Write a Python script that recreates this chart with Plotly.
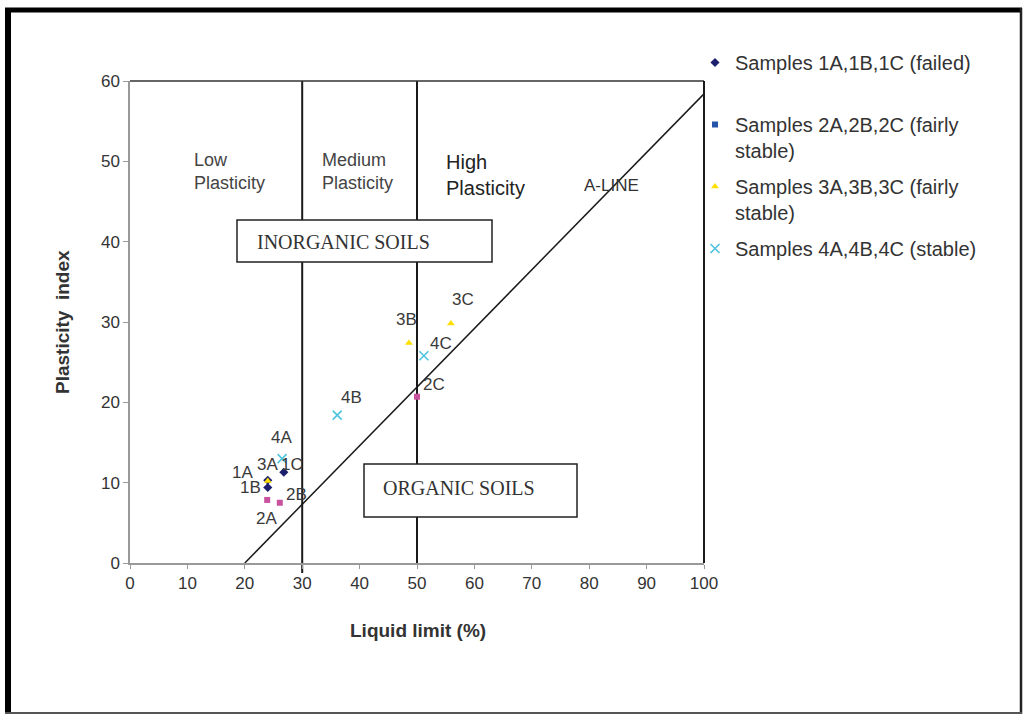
import plotly.graph_objects as go

# Atterberg limits of the samples: liquid limit (%) and plasticity index
s1_names = ["1A", "1B", "1C"]
s1_ll = [24.0, 24.0, 26.8]
s1_pi = [10.3, 9.4, 11.3]

s2_names = ["2A", "2B", "2C"]
s2_ll = [23.9, 26.1, 50.0]
s2_pi = [7.85, 7.5, 20.7]

s3_names = ["3A", "3B", "3C"]
s3_ll = [24.0, 48.6, 55.9]
s3_pi = [10.2, 27.4, 29.8]

s4_names = ["4A", "4B", "4C"]
s4_ll = [26.5, 36.1, 51.2]
s4_pi = [13.0, 18.4, 25.8]

series_labels = [
    "Samples 1A,1B,1C (failed)<br> ",
    "Samples 2A,2B,2C (fairly<br>stable)",
    "Samples 3A,3B,3C (fairly<br>stable)",
    "Samples 4A,4B,4C (stable)",
]

# A-line: PI = 0.73 (LL - 20)
aline_ll = [20, 100]
aline_pi = [0.73 * (v - 20) for v in aline_ll]

x_ticks = list(range(0, 101, 10))
y_ticks = list(range(0, 61, 10))

# pixel offsets of each point label from its marker (dx right, dy up)
label_offsets = {
    "1A": (-25, 8), "1B": (-17, 0), "1C": (8, 8),
    "2A": (-1, -19), "2B": (17, 8), "2C": (17, 12),
    "3A": (0, 17), "3B": (-2, 23), "3C": (12, 24),
    "4A": (-1, 21), "4B": (14, 18), "4C": (17, 12),
}

W, H = 1025, 715
L, R, T, B = 130, 704, 81, 563  # plot area in pixels


def px(xp):
    return (xp - L) / (R - L)


def py(yp):
    return (B - yp) / (B - T)


SANS = "Liberation Sans"
SERIF = "Liberation Serif"

fig = go.Figure()

# A-line
fig.add_trace(go.Scatter(x=aline_ll, y=aline_pi, mode="lines",
                         line=dict(color="#1a1a1a", width=1.5),
                         showlegend=False, hoverinfo="skip"))

series = [
    (s1_names, s1_ll, s1_pi, "diamond", "#1c1f6e", "#1c1f6e", 7),
    (s2_names, s2_ll, s2_pi, "square", "#c9529f", "#2554a8", 6),
    (s3_names, s3_ll, s3_pi, "triangle-up", "#ffdf00", "#ffdf00", 7),
    (s4_names, s4_ll, s4_pi, "x-thin", "#4ec3dd", "#4ec3dd", 9),
]

for i, (names, xs, ys, sym, col, legcol, size) in enumerate(series):
    grp = f"g{i}"
    line = dict(color=col, width=1.6) if sym == "x-thin" else dict(width=0)
    fig.add_trace(go.Scatter(
        x=xs, y=ys, mode="markers", name=series_labels[i],
        marker=dict(symbol=sym, color=col, size=size, line=line),
        legendgroup=grp, showlegend=False))
    leg_line = dict(color=legcol, width=1.6) if sym == "x-thin" else dict(width=0)
    fig.add_trace(go.Scatter(
        x=[None], y=[None], mode="markers", name=series_labels[i],
        marker=dict(symbol=sym, color=legcol, size=size, line=leg_line),
        legendgroup=grp, showlegend=True))
    for n, xv, yv in zip(names, xs, ys):
        dx, dy = label_offsets[n]
        fig.add_annotation(x=xv, y=yv, text=n, showarrow=False,
                           xshift=dx, yshift=dy,
                           xanchor="center", yanchor="middle",
                           font=dict(family=SANS, size=17, color="#3a3a3a"))

shapes = []
# plasticity boundaries
shapes.append(dict(type="line", xref="x", yref="paper", x0=30, x1=30,
                   y0=-0.021, y1=1, line=dict(color="#1a1a1a", width=2), layer="below"))
shapes.append(dict(type="line", xref="x", yref="paper", x0=50, x1=50,
                   y0=0, y1=1, line=dict(color="#1a1a1a", width=2), layer="below"))
# plot area border (top and right)
shapes.append(dict(type="line", xref="paper", yref="paper", x0=0, x1=1,
                   y0=1, y1=1, line=dict(color="#333333", width=1.5)))
shapes.append(dict(type="line", xref="paper", yref="paper", x0=1, x1=1,
                   y0=0, y1=1, line=dict(color="#1a1a1a", width=2)))
# soil group boxes
shapes.append(dict(type="rect", xref="paper", yref="paper",
                   x0=px(237), x1=px(492), y0=py(262), y1=py(220),
                   fillcolor="white", line=dict(color="#222222", width=1.5), layer="above"))
shapes.append(dict(type="rect", xref="paper", yref="paper",
                   x0=px(364), x1=px(577), y0=py(517), y1=py(464),
                   fillcolor="white", line=dict(color="#222222", width=1.5), layer="above"))
# outer frame
shapes.append(dict(type="line", xref="paper", yref="paper", x0=px(8), x1=px(8),
                   y0=py(714), y1=py(8), line=dict(color="black", width=6)))
shapes.append(dict(type="line", xref="paper", yref="paper", x0=px(5), x1=px(1022),
                   y0=py(10), y1=py(10), line=dict(color="black", width=5)))
shapes.append(dict(type="line", xref="paper", yref="paper", x0=px(1021), x1=px(1021),
                   y0=py(714), y1=py(8), line=dict(color="#222222", width=2.5)))
shapes.append(dict(type="line", xref="paper", yref="paper", x0=px(5), x1=px(1022),
                   y0=py(713), y1=py(713), line=dict(color="#555555", width=2)))

annotations = [
    dict(x=px(192), y=py(171), xanchor="left",
         text="Low<br>Plasticity", align="left",
         font=dict(family=SANS, size=18, color="#444444")),
    dict(x=px(320), y=py(171), xanchor="left",
         text="Medium<br>Plasticity", align="left",
         font=dict(family=SANS, size=18, color="#444444")),
    dict(x=px(444), y=py(175), xanchor="left",
         text="High<br>Plasticity", align="left",
         font=dict(family=SANS, size=20, color="#222222")),
    dict(x=px(611), y=py(185), xanchor="center",
         text="A-LINE",
         font=dict(family=SANS, size=17, color="#333333")),
    dict(x=px(255), y=py(242), xanchor="left",
         text="INORGANIC SOILS",
         font=dict(family=SERIF, size=20, color="#333333")),
    dict(x=px(381), y=py(488), xanchor="left",
         text="ORGANIC SOILS",
         font=dict(family=SERIF, size=20, color="#333333")),
    dict(x=px(62), y=py(322), xanchor="center", textangle=-90,
         text="<b>Plasticity  index</b>",
         font=dict(family=SANS, size=19, color="#333333")),
    dict(x=px(418), y=py(630), xanchor="center",
         text="<b>Liquid limit (%)</b>",
         font=dict(family=SANS, size=19, color="#333333")),
]

for a in annotations:
    fig.add_annotation(xref="paper", yref="paper", yanchor="middle",
                       showarrow=False, **a)

fig.update_layout(
    width=W, height=H,
    margin=dict(l=L, r=W - R, t=T, b=H - B),
    plot_bgcolor="white", paper_bgcolor="white",
    shapes=shapes,
    showlegend=True,
    legend=dict(x=px(695), y=py(43), xanchor="left", yanchor="top",
                font=dict(family=SANS, size=20, color="#333333"),
                valign="top", tracegroupgap=7, bgcolor="rgba(0,0,0,0)",
                itemwidth=30),
    xaxis=dict(range=[0, 100], tickvals=x_ticks, showgrid=False, zeroline=False,
               showline=True, linecolor="#999999", linewidth=1.5,
               ticks="outside", ticklen=4, tickcolor="#999999",
               tickfont=dict(family=SANS, size=17, color="#333333")),
    yaxis=dict(range=[0, 60], tickvals=y_ticks, showgrid=False, zeroline=False,
               showline=True, linecolor="#999999", linewidth=1.5,
               ticks="outside", ticklen=5, tickcolor="#999999",
               tickfont=dict(family=SANS, size=17, color="#333333")),
)

fig.write_html("out.html")
